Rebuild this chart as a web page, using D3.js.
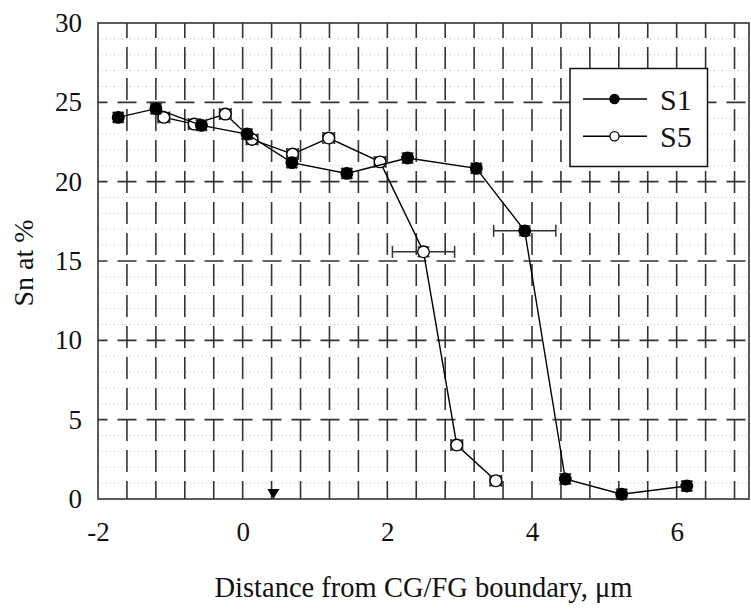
<!DOCTYPE html>
<html>
<head>
<meta charset="utf-8">
<script src="https://cdn.jsdelivr.net/npm/d3@7"></script>
</head>
<body style="margin:0; background:#fff">
<svg id="chart" width="751" height="614" style="display:block"></svg>
<script>
// Sn concentration profiles across the CG/FG boundary
const s1X    = [-1.72, -1.20, -0.57, 0.06, 0.68, 1.44, 2.28, 3.23, 3.90, 4.46, 5.24, 6.14];
const s1Y    = [24.05, 24.60, 23.55, 23.00, 21.20, 20.52, 21.49, 20.84, 16.90, 1.26, 0.30, 0.82];
const s1XErr = [0.06, 0.06, 0.06, 0.06, 0.06, 0.06, 0.06, 0.06, 0.43, 0.06, 0.06, 0.06];
const s1YErr = [0.30, 0.30, 0.30, 0.30, 0.30, 0.30, 0.30, 0.30, 0.30, 0.30, 0.30, 0.30];

const s5X    = [-1.09, -0.67, -0.24, 0.13, 0.69, 1.19, 1.90, 2.50, 2.96, 3.50];
const s5Y    = [24.05, 23.63, 24.26, 22.66, 21.74, 22.75, 21.25, 15.58, 3.40, 1.15];
const s5XErr = [0.08, 0.08, 0.08, 0.08, 0.08, 0.08, 0.08, 0.43, 0.08, 0.08];
const s5YErr = [0.30, 0.30, 0.30, 0.30, 0.30, 0.30, 0.30, 0.30, 0.30, 0.30];

const xTicks = [-2, 0, 2, 4, 6];
const yTicks = [0, 5, 10, 15, 20, 25, 30];
const xGrid = d3.range(-1.6, 7.0, 0.4).map(v => +v.toFixed(1));
const yMajorGrid = [5, 10, 15, 20, 25];
const yMinorGrid = d3.range(1, 30).filter(v => v % 5 !== 0);
const boundaryMarkX = 0.425;

const seriesNames = ["S1", "S5"];

const FONT = '"Liberation Serif"';

const svg = d3.select("#chart");
const L = 98, R = 749, T = 23, B = 499;
const x = d3.scaleLinear().domain([-2, 7]).range([L, R]);
const y = d3.scaleLinear().domain([0, 30]).range([B, T]);

// minor dotted horizontal grid
svg.append("g").selectAll("line").data(yMinorGrid).join("line")
  .attr("x1", L).attr("x2", R)
  .attr("y1", d => y(d)).attr("y2", d => y(d))
  .attr("stroke", "#c4c4c4").attr("stroke-width", 1).attr("stroke-dasharray", "1,3");

// dashed vertical grid
svg.append("g").selectAll("line").data(xGrid).join("line")
  .attr("x1", d => x(d)).attr("x2", d => x(d))
  .attr("y1", B).attr("y2", T)
  .attr("stroke", "#333").attr("stroke-width", 1.6)
  .attr("stroke-dasharray", "22,9").attr("stroke-dashoffset", 4);

// dashed horizontal major grid
svg.append("g").selectAll("line").data(yMajorGrid).join("line")
  .attr("x1", L).attr("x2", R)
  .attr("y1", d => y(d)).attr("y2", d => y(d))
  .attr("stroke", "#333").attr("stroke-width", 1.6)
  .attr("stroke-dasharray", "19,10").attr("stroke-dashoffset", 9.5);

// axes (labels only, frame drawn separately)
const yAxis = svg.append("g").attr("transform", `translate(${L},0)`)
  .call(d3.axisLeft(y).tickValues(yTicks).tickSize(0).tickPadding(16).tickFormat(d => String(d)));
const xAxis = svg.append("g").attr("transform", `translate(0,${B})`)
  .call(d3.axisBottom(x).tickValues(xTicks).tickSize(0).tickPadding(23).tickFormat(d => String(d)));
[yAxis, xAxis].forEach(a => {
  a.attr("font-family", null).attr("font-size", null);
  a.select(".domain").remove();
  a.selectAll("text").attr("font-size", 27).attr("fill", "#111").style("font-family", FONT);
});

// frame
svg.append("rect").attr("x", L).attr("y", T).attr("width", R - L).attr("height", B - T)
  .attr("fill", "none").attr("stroke", "#333").attr("stroke-width", 1.6);

// boundary marker
svg.append("path")
  .attr("d", `M${x(boundaryMarkX) - 6},${B - 10} L${x(boundaryMarkX) + 6},${B - 10} L${x(boundaryMarkX)},${B} Z`)
  .attr("fill", "#000");

function drawSeries(xs, ys, xe, ye, filled) {
  const pts = xs.map((v, i) => ({ x: v, y: ys[i], xe: xe[i], ye: ye[i] }));
  const g = svg.append("g");
  g.append("path").datum(pts)
    .attr("d", d3.line().x(d => x(d.x)).y(d => y(d.y)))
    .attr("fill", "none").attr("stroke", "#000").attr("stroke-width", 1.4);
  const eb = g.append("g").attr("stroke", "#333").attr("stroke-width", 1.5);
  pts.forEach(d => {
    const cx = x(d.x), cy = y(d.y);
    const x0 = x(d.x - d.xe), x1 = x(d.x + d.xe);
    const y0 = y(d.y - d.ye), y1 = y(d.y + d.ye);
    eb.append("line").attr("x1", x0).attr("x2", x1).attr("y1", cy).attr("y2", cy);
    eb.append("line").attr("x1", x0).attr("x2", x0).attr("y1", cy - 6).attr("y2", cy + 6);
    eb.append("line").attr("x1", x1).attr("x2", x1).attr("y1", cy - 6).attr("y2", cy + 6);
    eb.append("line").attr("x1", cx).attr("x2", cx).attr("y1", y0).attr("y2", y1);
    eb.append("line").attr("x1", cx - 6).attr("x2", cx + 6).attr("y1", y0).attr("y2", y0);
    eb.append("line").attr("x1", cx - 6).attr("x2", cx + 6).attr("y1", y1).attr("y2", y1);
  });
  g.selectAll("circle").data(pts).join("circle")
    .attr("cx", d => x(d.x)).attr("cy", d => y(d.y)).attr("r", 5.8)
    .attr("fill", filled ? "#000" : "#fff").attr("stroke", "#000").attr("stroke-width", 1.3);
}

drawSeries(s5X, s5Y, s5XErr, s5YErr, false);
drawSeries(s1X, s1Y, s1XErr, s1YErr, true);

// legend
const lg = svg.append("g");
lg.append("rect").attr("x", 570).attr("y", 68.5).attr("width", 137.5).attr("height", 98)
  .attr("fill", "#fff").attr("stroke", "#111").attr("stroke-width", 1.5);
seriesNames.forEach((name, i) => {
  const ly = 99 + i * 37.3;
  lg.append("line").attr("x1", 583).attr("x2", 647).attr("y1", ly).attr("y2", ly)
    .attr("stroke", "#000").attr("stroke-width", 1.4);
  lg.append("circle").attr("cx", 614.5).attr("cy", ly).attr("r", 4.6)
    .attr("fill", i === 0 ? "#000" : "#fff").attr("stroke", "#000").attr("stroke-width", 1.3);
  lg.append("text").attr("x", 660).attr("y", ly + 11).attr("font-size", 30).attr("fill", "#111")
    .style("font-family", FONT).text(name);
});

// axis titles
svg.append("text").attr("x", (L + R) / 2).attr("y", 597).attr("text-anchor", "middle")
  .attr("font-size", 28.5).attr("fill", "#111").style("font-family", FONT)
  .text("Distance from CG/FG boundary, μm");
svg.append("text").attr("transform", "translate(33,263) rotate(-90)").attr("text-anchor", "middle")
  .attr("font-size", 28).attr("fill", "#111").style("font-family", FONT).text("Sn at %");
</script>
</body>
</html>
